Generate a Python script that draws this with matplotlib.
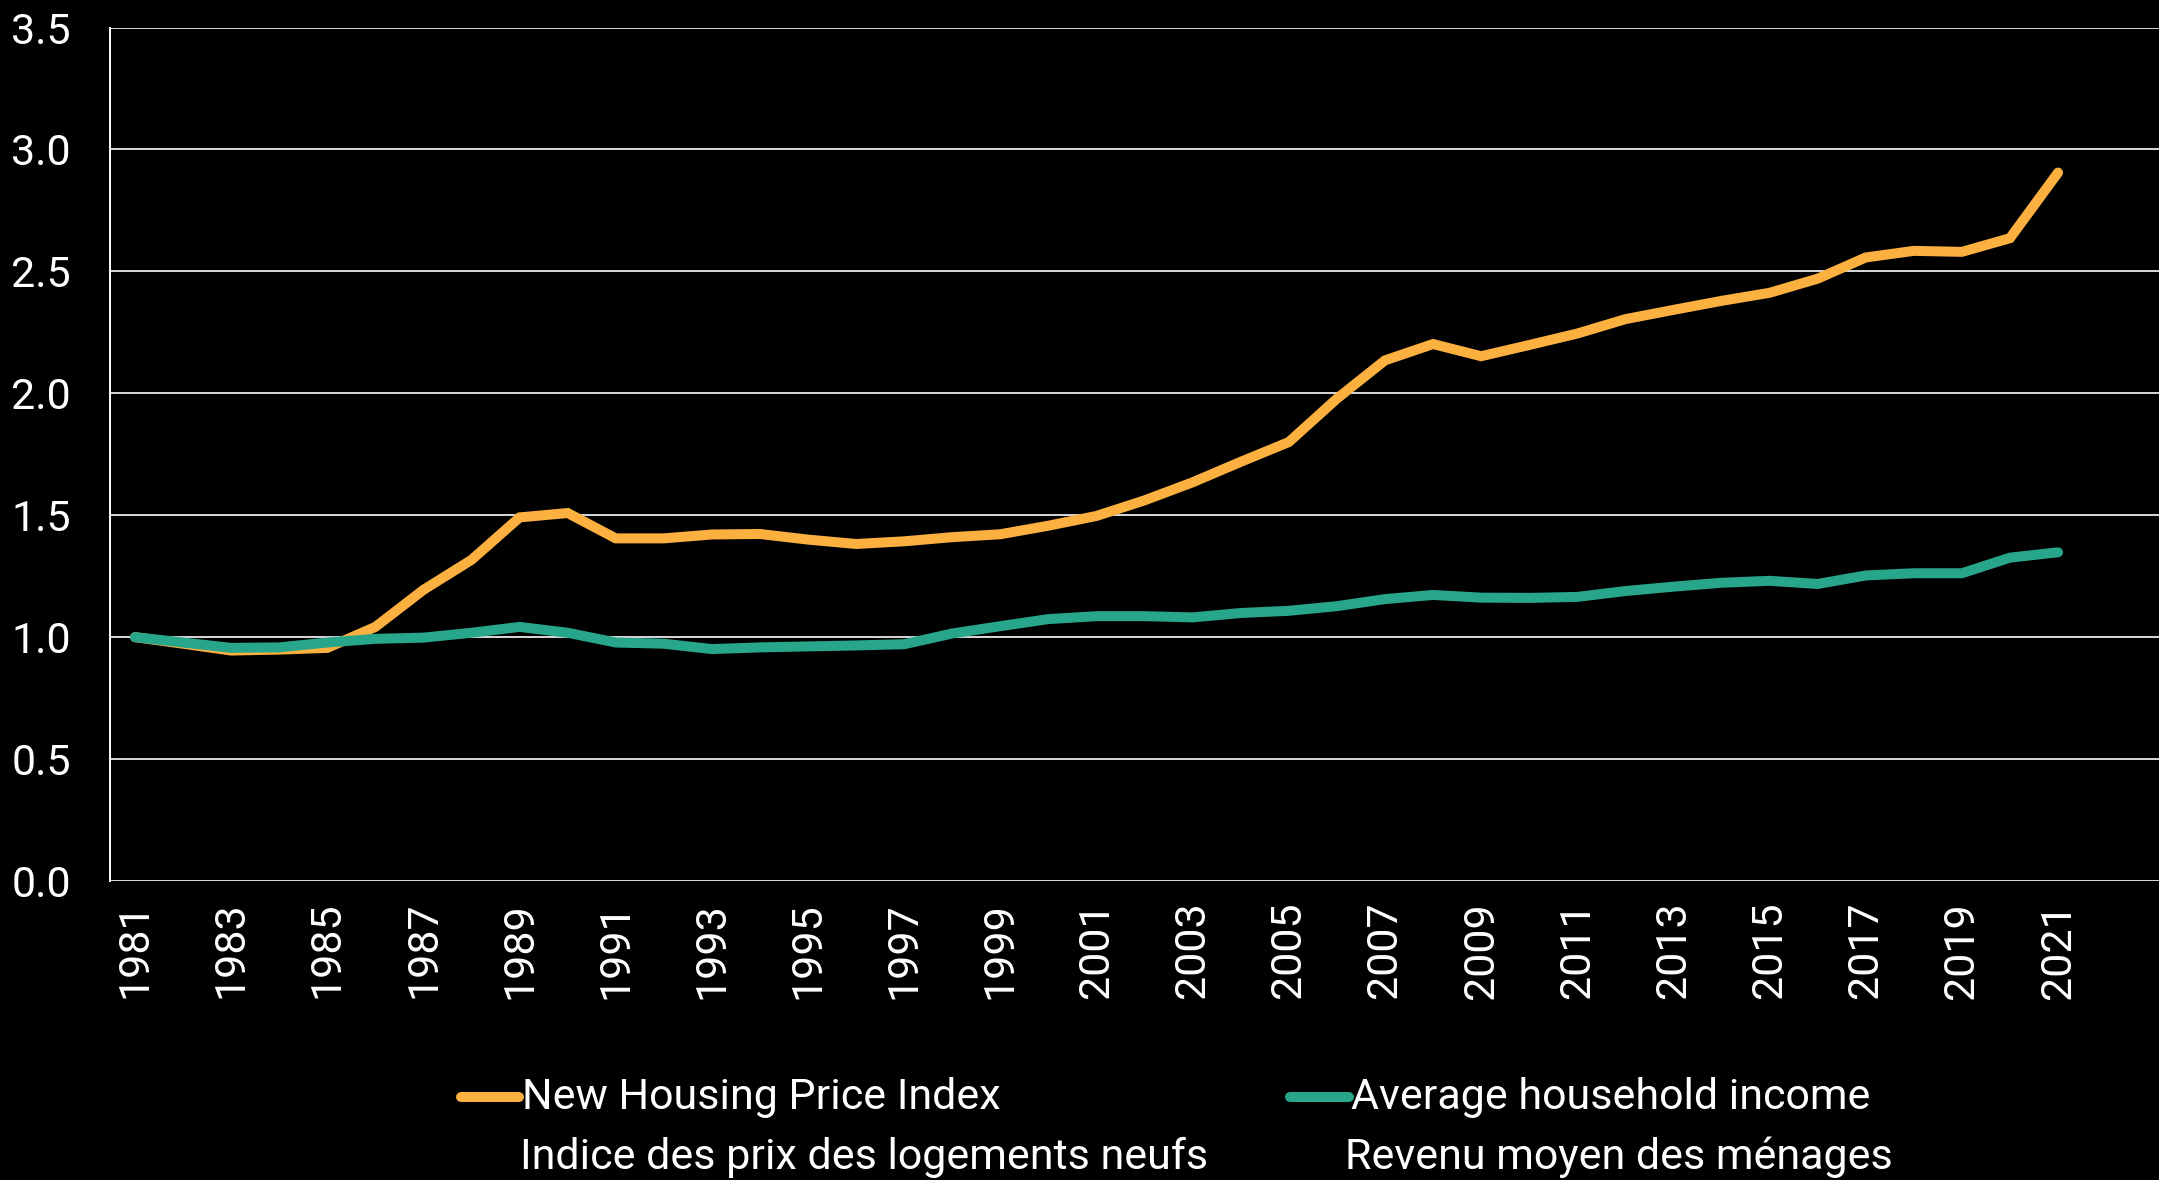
import matplotlib
matplotlib.use('Agg')
import matplotlib.pyplot as plt
from matplotlib.lines import Line2D

years = list(range(1981, 2022))
housing = [1.000, 0.973, 0.945, 0.949, 0.956, 1.042, 1.194, 1.317, 1.491, 1.509,
           1.405, 1.405, 1.421, 1.423, 1.400, 1.382, 1.393, 1.410, 1.422, 1.457,
           1.497, 1.561, 1.635, 1.719, 1.800, 1.978, 2.135, 2.202, 2.152, 2.198,
           2.245, 2.304, 2.342, 2.379, 2.412, 2.470, 2.557, 2.584, 2.580, 2.636,
           2.905]
income = [1.000, 0.978, 0.956, 0.958, 0.978, 0.993, 0.998, 1.018, 1.042, 1.018,
          0.978, 0.973, 0.951, 0.958, 0.962, 0.966, 0.971, 1.015, 1.045, 1.074,
          1.086, 1.086, 1.081, 1.099, 1.108, 1.127, 1.156, 1.173, 1.162, 1.161,
          1.165, 1.189, 1.207, 1.223, 1.231, 1.218, 1.253, 1.262, 1.262, 1.326,
          1.348]
yticks = [0.0, 0.5, 1.0, 1.5, 2.0, 2.5, 3.0, 3.5]
xticks = list(range(1981, 2022, 2))
labels_en = ["New Housing Price Index", "Average household income"]
labels_fr = ["Indice des prix des logements neufs", "Revenu moyen des ménages"]

orange = '#FBB040'
teal = '#27A68C'
fam = ['Roboto', 'DejaVu Sans']
fs = 31

W, H = 2159, 1180
fig = plt.figure(figsize=(W / 100, H / 100), dpi=100, facecolor='black')
ax = fig.add_axes([110 / W, 1 - 881 / H, (W - 110) / W, (881 - 27.5) / H])
ax.set_facecolor('black')

ax.plot(years, housing, color=orange, lw=7.2, solid_capstyle='round', solid_joinstyle='miter', zorder=3)
ax.plot(years, income, color=teal, lw=7.2, solid_capstyle='round', solid_joinstyle='miter', zorder=4)

ax.set_ylim(0, 3.5)
ax.set_xlim(1980.48, 2023.1)
ax.set_yticks(yticks)
ax.set_yticklabels([f"{v:.1f}" for v in yticks], fontsize=fs, color='white', family=fam)
ax.set_xticks(xticks)
ax.set_xticklabels([str(y) for y in xticks], rotation=90, fontsize=fs, color='white', family=fam)
ax.tick_params(axis='y', length=0, pad=28)
ax.tick_params(axis='x', length=0, pad=15)
ax.grid(axis='y', color='#d9d9d9', lw=1.4)
ax.set_axisbelow(True)
for s in ['top', 'right', 'bottom']:
    ax.spines[s].set_visible(False)
ax.spines['left'].set_color('white')
ax.spines['left'].set_linewidth(1.4)

# legend drawn by hand so the French lines sit under the English ones
def fy(py):
    return 1 - py / H

for (x0, x1, tx, ftx), col, en, fr in zip([(461, 519, 522, 520), (1290, 1349, 1351, 1345)],
                                          [orange, teal], labels_en, labels_fr):
    fig.add_artist(Line2D([x0 / W, x1 / W], [fy(1097), fy(1097)], color=col, lw=7.2,
                          solid_capstyle='round', transform=fig.transFigure))
    fig.text(tx / W, fy(1097), en, color='white', fontsize=fs, family=fam, va='center', ha='left')
    fig.text(ftx / W, fy(1157), fr, color='white', fontsize=fs, family=fam, va='center', ha='left')

fig.savefig('out.png', dpi=100, facecolor='black')
